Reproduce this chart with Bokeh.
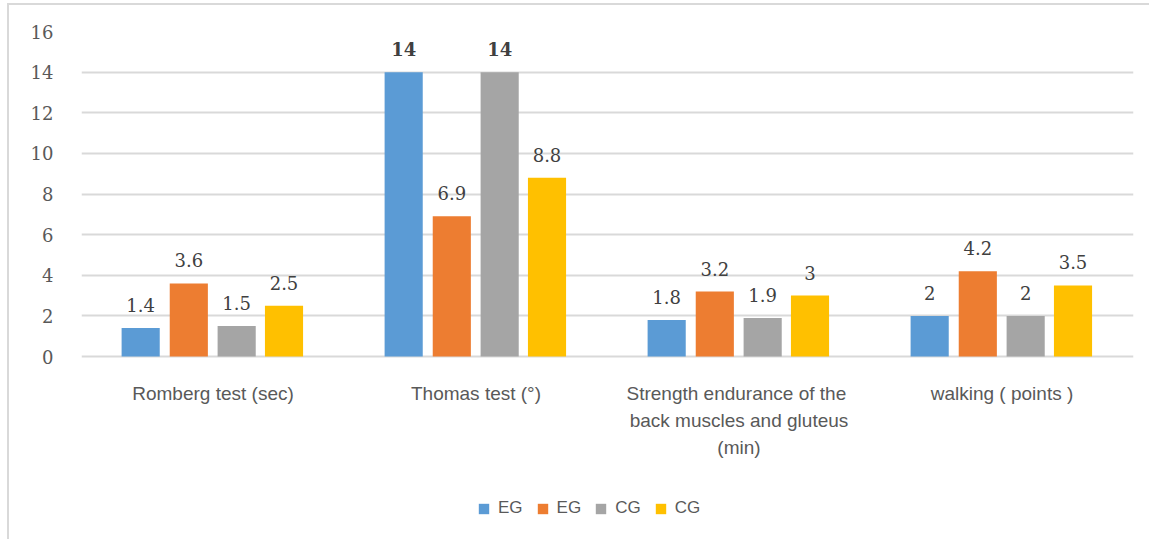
from bokeh.plotting import figure
from bokeh.models import (ColumnDataSource, FactorRange, Range1d, FixedTicker,
                          Legend, LegendItem)
from bokeh.transform import dodge
from bokeh.core.properties import value
from bokeh.embed import file_html
from bokeh.resources import INLINE

# Test categories (x axis)
categories = [
    "Romberg test (sec)",
    "Thomas test (°)",
    "Strength endurance of  the\nback muscles and gluteus\n(min)",
    "walking ( points )",
]

# Series values, one per category
eg_a = [1.4, 14, 1.8, 2]
eg_b = [3.6, 6.9, 3.2, 4.2]
cg_a = [1.5, 14, 1.9, 2]
cg_b = [2.5, 8.8, 3, 3.5]

series_names = ["EG", "EG", "CG", "CG"]
y_ticks = [0, 2, 4, 6, 8, 10, 12, 14, 16]

colors = ["#5B9BD5", "#ED7D31", "#A5A5A5", "#FFC000"]
offsets = [-0.275, -0.092, 0.09, 0.27]
bar_w = 0.145

# plot area: value axis spans 325 px; the frame continues below zero to hold
# the category labels and the legend
W, H = 1142, 536
top_pad, left_pad, right_pad = 26, 72, 18
px_per_unit = 325 / (y_ticks[-1] - y_ticks[0])
frame_h = H - top_pad
y_low = y_ticks[-1] - frame_h / px_per_unit

p = figure(
    x_range=FactorRange(*categories, range_padding=0),
    y_range=Range1d(y_low, y_ticks[-1]),
    width=W, height=H,
    output_backend="svg", toolbar_location=None,
    min_border_left=left_pad, min_border_right=right_pad,
    min_border_top=top_pad, min_border_bottom=0,
)
p.margin = (3, 0, 0, 7)
p.styles = {"border-left": "2px solid #d9d9d9", "border-top": "2px solid #d9d9d9"}
p.outline_line_color = None
p.background_fill_color = "white"
p.border_fill_color = "white"

serif = "DejaVu Serif"
sans = "Liberation Sans"

all_series = [eg_a, eg_b, cg_a, cg_b]
legend_items = []
for i, vals in enumerate(all_series):
    src = ColumnDataSource(dict(
        cat=categories,
        val=vals,
        lbl=[f"{v:g}" for v in vals],
        style=["bold" if v >= 14 else "normal" for v in vals],
    ))
    r = p.vbar(x=dodge("cat", offsets[i], range=p.x_range), top="val", width=bar_w,
               source=src, fill_color=colors[i], line_color=None)
    p.text(x=dodge("cat", offsets[i], range=p.x_range), y="val", text="lbl", source=src,
           text_align="center", text_baseline="middle", y_offset=-23,
           text_font=value(serif), text_font_size="18px", text_font_style="style",
           text_color="#404040")
    legend_items.append(LegendItem(label=series_names[i], renderers=[r]))

# category labels under the zero line
cat_src = ColumnDataSource(dict(cat=categories, y=[0] * len(categories)))
p.text(x="cat", y="y", text="cat", source=cat_src, text_align="center",
       text_baseline="top", y_offset=26, text_font=value(sans),
       text_font_size="19px", text_color="#595959", text_line_height=1.3)

# axes
p.xaxis.visible = False
p.yaxis.ticker = FixedTicker(ticks=y_ticks)
p.yaxis.axis_line_color = None
p.yaxis.major_tick_line_color = None
p.yaxis.minor_tick_line_color = None
p.yaxis.major_label_text_font = serif
p.yaxis.major_label_text_font_size = "18px"
p.yaxis.major_label_text_color = "#595959"
p.yaxis.major_label_standoff = 22

p.xgrid.grid_line_color = None
p.ygrid.grid_line_color = "#d9d9d9"
p.ygrid.grid_line_width = 2

legend = Legend(items=legend_items, orientation="horizontal", location=(396, 23),
                border_line_color=None, background_fill_alpha=0,
                label_text_font=sans, label_text_font_size="17px",
                label_text_color="#595959", glyph_width=13, glyph_height=13,
                label_standoff=8, spacing=13, padding=0, margin=0)
p.add_layout(legend, "center")

open("out.html", "w").write(file_html(p, INLINE))
